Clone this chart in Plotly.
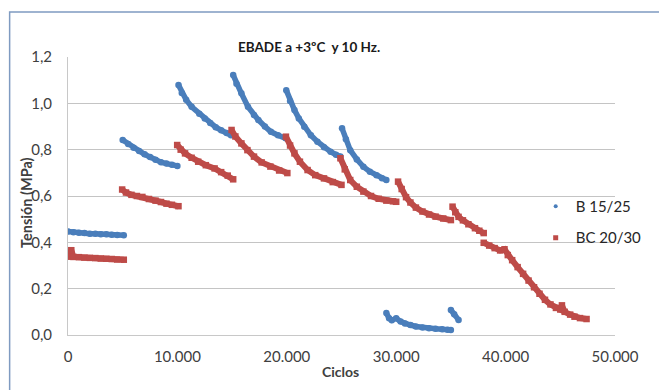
import plotly.graph_objects as go

# ---- Data: stress (MPa) versus load cycles, one list per loading block ----
# B 15/25
b_x = [
    [0, 500, 1000, 1500, 2000, 2500, 3000, 3500, 4000, 4500, 5100],
    [5000, 5500, 6000, 6500, 7000, 7500, 8000, 8500, 9000, 9500, 10000],
    [10100, 10400, 10800, 11300, 12000, 12500, 13000, 13500, 14000, 14500, 14900],
    [15100, 15400, 15850, 16450, 17000, 17400, 18000, 18550, 19200, 19900],
    [19950, 20300, 20700, 21100, 21600, 22200, 22800, 23400, 24000, 24500, 24900],
    [25050, 25400, 25800, 26400, 27000, 27600, 28200, 28700, 29100],
    [29100, 29350, 29600, 30000, 30400, 30800, 31300, 31800, 32400, 33000, 33600, 34200, 34700, 35000],
    [35000, 35300, 35700],
]
b_y = [
    [0.447, 0.443, 0.441, 0.440, 0.437, 0.437, 0.435, 0.435, 0.433, 0.432, 0.431],
    [0.842, 0.825, 0.808, 0.794, 0.780, 0.768, 0.756, 0.746, 0.740, 0.735, 0.730],
    [1.079, 1.045, 1.015, 0.985, 0.955, 0.935, 0.915, 0.897, 0.884, 0.872, 0.862],
    [1.122, 1.085, 1.043, 0.985, 0.950, 0.928, 0.900, 0.877, 0.862, 0.849],
    [1.057, 1.010, 0.971, 0.935, 0.899, 0.862, 0.834, 0.810, 0.791, 0.778, 0.770],
    [0.892, 0.845, 0.798, 0.758, 0.726, 0.705, 0.690, 0.677, 0.669],
    [0.095, 0.072, 0.064, 0.072, 0.058, 0.050, 0.043, 0.037, 0.032, 0.029, 0.027, 0.025, 0.023, 0.022],
    [0.108, 0.090, 0.065],
]

# BC 20/30
bc_x = [
    [0, 300, 500, 1000, 1500, 2000, 2500, 3000, 3500, 4000, 4500, 5100],
    [4950, 5300, 5800, 6300, 6800, 7400, 8000, 8500, 9000, 9500, 10100],
    [9980, 10300, 10700, 11300, 11900, 12600, 13400, 14000, 14600, 15100],
    [14950, 15300, 15850, 16400, 17000, 17700, 18500, 19300, 20050],
    [19920, 20300, 20700, 21200, 21900, 22600, 23400, 24200, 25000],
    [24900, 25300, 25800, 26400, 27000, 27700, 28400, 29100, 29700, 30000],
    [30170, 30500, 30900, 31300, 31800, 32400, 33000, 33600, 34300, 35000],
    [35150, 35400, 35700, 36100, 36600, 37200, 37600, 38000],
    [38000, 38500, 39000, 39500, 39900, 40200, 40600, 41100, 41600, 42100, 42600,
     43100, 43600, 44100, 44600, 45000, 45150, 45400, 45900, 46300, 46800, 47400],
]
bc_y = [
    [0.338, 0.366, 0.337, 0.336, 0.334, 0.333, 0.332, 0.330, 0.329, 0.328, 0.326, 0.325],
    [0.628, 0.615, 0.605, 0.600, 0.596, 0.587, 0.580, 0.574, 0.567, 0.562, 0.556],
    [0.820, 0.800, 0.784, 0.765, 0.748, 0.733, 0.719, 0.703, 0.688, 0.672],
    [0.885, 0.857, 0.827, 0.798, 0.770, 0.745, 0.727, 0.710, 0.699],
    [0.856, 0.818, 0.784, 0.748, 0.712, 0.690, 0.676, 0.660, 0.648],
    [0.763, 0.715, 0.669, 0.640, 0.619, 0.600, 0.588, 0.580, 0.577, 0.575],
    [0.662, 0.630, 0.595, 0.572, 0.550, 0.533, 0.520, 0.511, 0.503, 0.496],
    [0.554, 0.530, 0.510, 0.495, 0.478, 0.461, 0.450, 0.440],
    [0.398, 0.386, 0.375, 0.365, 0.370, 0.345, 0.323, 0.293, 0.264, 0.235, 0.206,
     0.178, 0.152, 0.132, 0.117, 0.110, 0.128, 0.100, 0.088, 0.079, 0.073, 0.069],
]

series_names = ["B 15/25", "BC 20/30"]
x_tick_vals = [0, 10000, 20000, 30000, 40000, 50000]
x_tick_text = ["0", "10.000", "20.000", "30.000", "40.000", "50.000"]
y_tick_vals = [0.0, 0.2, 0.4, 0.6, 0.8, 1.0, 1.2]
y_tick_text = ["0,0", "0,2", "0,4", "0,6", "0,8", "1,0", "1,2"]

BLUE = "#4a7ebb"
RED = "#be4b48"
FONT = "Lato"


def join_blocks(xs, ys):
    """Concatenate blocks, separated by None so each block is drawn on its own."""
    out_x, out_y = [], []
    for bx, by in zip(xs, ys):
        out_x += bx + [None]
        out_y += by + [None]
    return out_x, out_y


fig = go.Figure()

bx, by = join_blocks(b_x, b_y)
fig.add_trace(go.Scatter(
    x=bx, y=by, mode="lines+markers", showlegend=False,
    line=dict(color=BLUE, width=5.5),
    marker=dict(symbol="circle", size=6.5, color=BLUE),
))
cx, cy = join_blocks(bc_x, bc_y)
fig.add_trace(go.Scatter(
    x=cx, y=cy, mode="lines+markers", showlegend=False,
    line=dict(color=RED, width=6),
    marker=dict(symbol="square", size=6.5, color=RED),
))

# legend entries: marker only
fig.add_trace(go.Scatter(
    x=[None], y=[None], mode="markers", name=series_names[0], legendgroup="a",
    marker=dict(symbol="circle", size=4, color=BLUE),
))
fig.add_trace(go.Scatter(
    x=[None], y=[None], mode="markers", name=series_names[1], legendgroup="b",
    marker=dict(symbol="square", size=5, color=RED),
))

fig.update_layout(
    width=659, height=390,
    margin=dict(l=68, r=38, t=57, b=55),
    paper_bgcolor="white", plot_bgcolor="white",
    font=dict(family=FONT, size=15, color="#404040"),
    legend=dict(
        x=0.855, y=0.522, xanchor="left", yanchor="top",
        bgcolor="rgba(0,0,0,0)", traceorder="grouped", tracegroupgap=9,
        font=dict(family=FONT, size=15, color="#262626"),
    ),
    xaxis=dict(
        range=[0, 50000], tickvals=x_tick_vals, ticktext=x_tick_text,
        showgrid=False, zeroline=False, showline=True, linecolor="#c8c8c8",
        linewidth=1, ticks="", ticklabelstandoff=8,
        tickfont=dict(size=15, color="#404040"),
    ),
    yaxis=dict(
        range=[0, 1.2], tickvals=y_tick_vals, ticktext=y_tick_text,
        showgrid=True, gridcolor="#c4c4c4", gridwidth=1,
        zeroline=False, showline=True, linecolor="#c8c8c8", linewidth=1,
        ticks="", ticklabelstandoff=12,
        tickfont=dict(size=15, color="#404040"),
    ),
    annotations=[
        dict(text="<b>EBADE a +3ºC  y 10 Hz.</b>", xref="paper", yref="paper",
             x=0.44, y=1.035, xanchor="center", yanchor="middle", showarrow=False,
             font=dict(family=FONT, size=13.5, color="#1a1a1a")),
        dict(text="<b>Tensión (MPa)</b>", xref="paper", yref="paper",
             x=-0.077, y=0.478, xanchor="center", yanchor="middle", textangle=-90,
             showarrow=False, font=dict(family=FONT, size=14.5, color="#404040")),
        dict(text="<b>Ciclos</b>", xref="paper", yref="paper",
             x=0.498, y=-0.13, xanchor="center", yanchor="middle", showarrow=False,
             font=dict(family=FONT, size=14, color="#404040")),
    ],
    shapes=[
        # outer frame of the chart
        dict(type="rect", xref="paper", yref="paper",
             x0=-0.1067, x1=1.2, y0=-0.3, y1=1.162,
             line=dict(color="#7f9bc1", width=1.5), fillcolor="rgba(0,0,0,0)",
             layer="below"),
    ],
)

fig.write_html("out.html")
